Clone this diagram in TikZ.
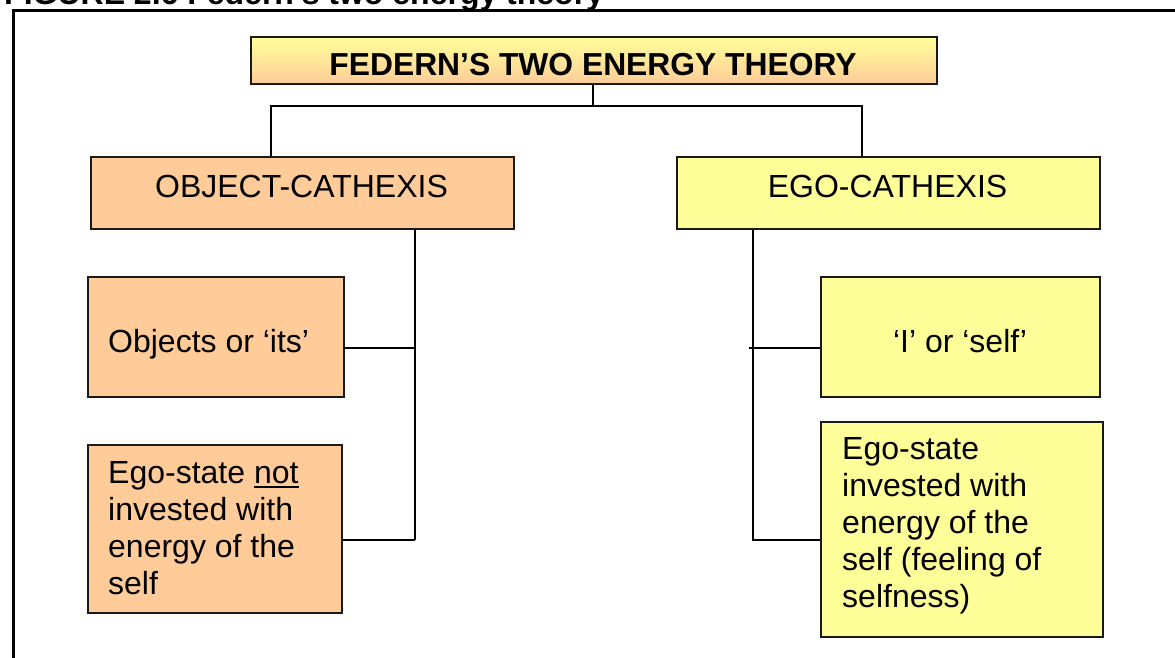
\documentclass[tikz,border=0pt]{standalone}
\usepackage{fontspec}
\setmainfont{Liberation Sans}
\definecolor{peachc}{HTML}{FFCC99}
\definecolor{yellowc}{HTML}{FFFF99}
\newcommand\myul[1]{\setbox0\hbox{#1}\rlap{\rule[-5pt]{\wd0}{2pt}}#1}
\begin{document}
\begin{tikzpicture}[x=1pt,y=-1pt,
  box/.style={draw=black!90, line width=1.8pt, inner sep=0pt, anchor=north west},
  link/.style={draw=black, line width=1.8pt},
  txt/.style={inner sep=0pt, font=\fontsize{32}{37}\selectfont}]
\useasboundingbox (0,0) rectangle (1175,657);
\clip (0,0) rectangle (1175,657);
% caption (cut off at the top) and frame
\node[anchor=base west, inner sep=0pt, font=\bfseries\fontsize{32}{38}\selectfont] (cap) at (4,4) {FIGURE 2.6 Federn’s two energy theory};
\fill[white] (0,8.5) rectangle (1175,657);
\draw[line width=3pt] (13.5,700) -- (13.5,10) -- (1200,10);
% boxes
\node[box, top color=yellowc, bottom color=peachc, minimum width=686pt, minimum height=47pt] (title) at (250,36) {};
\node[box, fill=peachc, minimum width=423pt, minimum height=72pt] (obj) at (90,156) {};
\node[box, fill=yellowc, minimum width=423pt, minimum height=72pt] (ego) at (676,156) {};
\node[box, fill=peachc, minimum width=256pt, minimum height=120pt] (its) at (87,276) {};
\node[box, fill=peachc, minimum width=254pt, minimum height=168pt] (notb) at (87,444) {};
\node[box, fill=yellowc, minimum width=279pt, minimum height=120pt] (selfb) at (820,276) {};
\node[box, fill=yellowc, minimum width=282pt, minimum height=215pt] (inv) at (820,421) {};
% texts
\node[inner sep=0pt, anchor=base, font=\bfseries\fontsize{31.8}{37}\selectfont] (titletxt) at (593,75) {FEDERN’S TWO ENERGY THEORY};
\node[txt, anchor=base] (objtxt) at (301.5,197) {OBJECT-CATHEXIS};
\node[txt, anchor=base] (egotxt) at (887.5,197) {EGO-CATHEXIS};
\node[txt, anchor=base west] (itstxt) at (108,352) {Objects or ‘its’};
\node[txt, anchor=base] (selftxt) at (960,352) {‘I’ or ‘self’};
\node[txt, anchor=base west, align=left] (nottxt) at (108,594) {Ego-state \myul{not}\\invested with\\energy of the\\self};
\node[txt, anchor=base west, align=left] (invtxt) at (842,607) {Ego-state\\invested with\\energy of the\\self (feeling of\\selfness)};
% connectors
\coordinate (tj) at (593,106);
\coordinate (jl) at (271,106);
\coordinate (jr) at (862,106);
\coordinate (lb) at (415,540);
\coordinate (lm) at (415,348);
\coordinate (rb) at (753,540);
\coordinate (rs) at (749,348);
\draw[link] (tj |- title.south) -- (tj);
\draw[link] (jl |- obj.north) -- (jl) -- (jr) -- (jr |- ego.north);
\draw[link] (lb |- obj.south) -- (lb);
\draw[link] (its.east |- lm) -- (lm);
\draw[link] (notb.east |- lb) -- (lb);
\draw[link] (rb |- ego.south) -- (rb) -- (inv.west |- rb);
\draw[link] (rs) -- (selfb.west |- rs);
\end{tikzpicture}
\end{document}
